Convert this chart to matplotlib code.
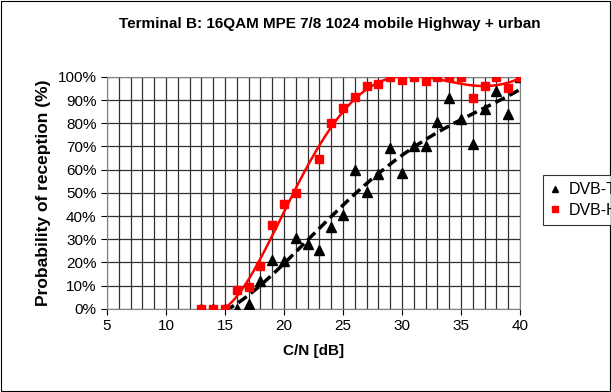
import numpy as np
import matplotlib.pyplot as plt
from matplotlib.patches import Rectangle
from matplotlib.ticker import MultipleLocator, PercentFormatter

plt.rcParams['font.family'] = ['Liberation Sans', 'DejaVu Sans']

# DVB-H (red squares)
cn_h = [13, 14, 15, 16, 17, 18, 19, 20, 21, 23, 24, 25, 26, 27, 28, 29, 30,
        31, 32, 33, 34, 35, 36, 37, 38, 39, 40]
p_h = [0, 0, 0, 8, 9.5, 18.5, 36, 45, 50, 64.5, 80, 86.5, 91.5, 96, 97, 100, 98.5,
       100, 98, 100, 100, 100, 91, 96, 100, 95, 100]

# DVB-T (black triangles)
cn_t = [13, 14, 15, 16, 17, 18, 19, 20, 21, 22, 23, 24, 25, 26, 27, 28, 29, 30,
        31, 32, 33, 34, 35, 36, 37, 38, 39, 40]
p_t = [0, 0, 0, 0, 2, 12, 21, 20.5, 30.5, 28, 25.5, 35.5, 40.5, 60, 50.5, 58, 69.5, 58.5,
       70, 70, 80.5, 91, 82, 71, 86, 94, 84, 100]

fig = plt.figure(figsize=(6.11, 3.92), dpi=100)
ax = fig.add_axes([0.175, 0.212, 0.676, 0.592])

# trend lines (polynomial fit from 15 dB upward)
xh = np.array([c for c in cn_h if c >= 15])
yh = np.array([v for c, v in zip(cn_h, p_h) if c >= 15])
xt = np.array([c for c in cn_t if c >= 15])
yt = np.array([v for c, v in zip(cn_t, p_t) if c >= 15])
xs = np.linspace(15, 40, 300)
fit_h = np.polyval(np.polyfit(xh, yh, 6), xs)
fit_t = np.polyval(np.polyfit(xt, yt, 4), xs)

ax.plot(xs, fit_t, color='black', lw=2.5, ls=(0, (3, 1.5)), zorder=3)
ax.plot(xs, fit_h, color='red', lw=1.8, zorder=3)
ax.plot(cn_t, p_t, ls='none', marker='^', color='black', ms=6.5, label='DVB-T', zorder=4)
ax.plot(cn_h, p_h, ls='none', marker='s', color='red', ms=6, label='DVB-H', zorder=5)

ax.set_xlim(5, 40)
ax.set_ylim(0, 100)
ax.xaxis.set_major_locator(MultipleLocator(5))
ax.xaxis.set_minor_locator(MultipleLocator(1))
ax.yaxis.set_major_locator(MultipleLocator(10))
ax.yaxis.set_major_formatter(PercentFormatter(decimals=0))
ax.grid(True, which='both', axis='x', color='#303030', lw=0.9)
ax.grid(True, which='major', axis='y', color='#303030', lw=0.9)
ax.tick_params(axis='both', labelsize=11, length=4, width=0.8)
ax.tick_params(axis='x', which='minor', length=0)
for s in ax.spines.values():
    s.set_color('#808080')

ax.set_xlabel('C/N [dB]', fontsize=11, fontweight='bold', labelpad=8)
ax.set_ylabel('Probability of reception (%)', fontsize=12.5, fontweight='bold', labelpad=5)
fig.text(0.54, 0.938, 'Terminal B: 16QAM MPE 7/8 1024 mobile Highway + urban',
         ha='center', va='center', fontsize=11, fontweight='bold')

leg = fig.legend(handles=ax.get_legend_handles_labels()[0][:2], loc='upper left',
                 bbox_to_anchor=(0.875, 0.574), fontsize=11.5, markerscale=0.75,
                 frameon=True, fancybox=False, edgecolor='black',
                 handlelength=0.6, handletextpad=0.6, borderpad=0.45,
                 labelspacing=0.35)
leg.get_frame().set_linewidth(0.8)

fig.patches.append(Rectangle((0.002, 0.003), 0.996, 0.994, transform=fig.transFigure,
                             fill=False, edgecolor='black', lw=0.8))

plt.savefig('out.png', dpi=100)
plt.close()
